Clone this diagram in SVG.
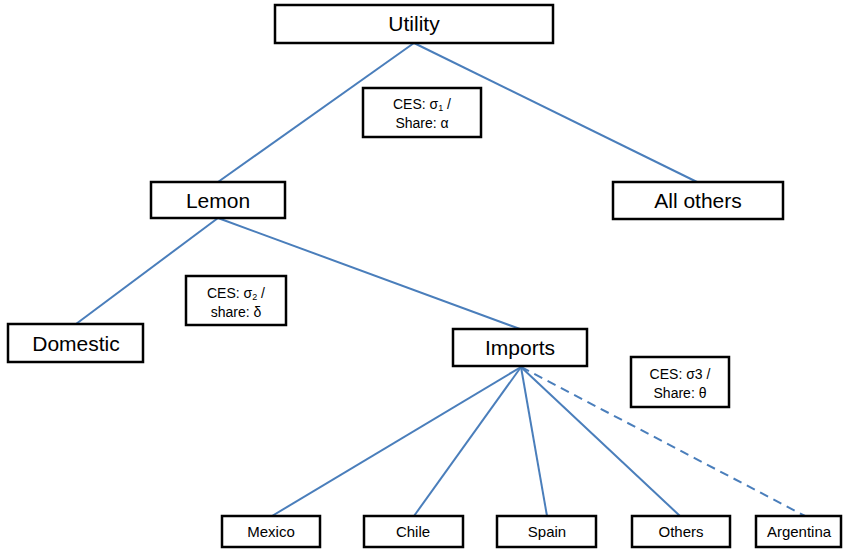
<svg xmlns="http://www.w3.org/2000/svg" width="844" height="550" viewBox="0 0 844 550">
<style>
.box{fill:#fff;stroke:#000;stroke-width:2.5}
.big{font-family:"Liberation Sans",Arial,sans-serif;font-size:21px;fill:#000;text-anchor:middle}
.mid{font-family:"Liberation Sans",Arial,sans-serif;font-size:14px;fill:#000;text-anchor:middle}
.sm{font-family:"Liberation Sans",Arial,sans-serif;font-size:15px;fill:#000;text-anchor:middle}
.edge{stroke:#4a7ebb;stroke-width:2;fill:none}
.dash{stroke-dasharray:9 6}
</style>
<rect width="844" height="550" fill="#fff"/>
<g id="connectors">
<line class="edge" x1="414" y1="43" x2="218" y2="182"/>
<line class="edge" x1="414" y1="43" x2="697" y2="182"/>
<line class="edge" x1="218" y1="218" x2="76" y2="324"/>
<line class="edge" x1="218" y1="218" x2="520" y2="329"/>
<line class="edge" x1="521" y1="367" x2="272" y2="516"/>
<line class="edge" x1="521" y1="367" x2="414" y2="516"/>
<line class="edge" x1="521" y1="367" x2="547" y2="516"/>
<line class="edge" x1="521" y1="367" x2="680" y2="516"/>
<line class="edge dash" x1="521" y1="367" x2="805" y2="516"/>
</g>
<g id="utility"><rect class="box" x="275" y="5" width="278" height="38"/><text class="big" x="414" y="31">Utility</text></g>
<g id="ces1"><rect class="box" x="363" y="88" width="118" height="49"/><text class="mid" x="422" y="109">CES: σ<tspan font-size="9" dy="2">1</tspan><tspan dy="-2"> /</tspan></text><text class="mid" x="422" y="128">Share: α</text></g>
<g id="lemon"><rect class="box" x="151" y="182" width="134" height="36"/><text class="big" x="218" y="208">Lemon</text></g>
<g id="allothers"><rect class="box" x="613" y="182" width="170" height="37"/><text class="big" x="698" y="208">All others</text></g>
<g id="ces2"><rect class="box" x="186" y="276" width="100" height="49"/><text class="mid" x="236" y="298">CES: σ<tspan font-size="9" dy="2">2</tspan><tspan dy="-2"> /</tspan></text><text class="mid" x="236" y="317">share: δ</text></g>
<g id="domestic"><rect class="box" x="8" y="324" width="135" height="38"/><text class="big" x="76" y="351">Domestic</text></g>
<g id="imports"><rect class="box" x="453" y="329" width="134" height="37"/><text class="big" x="520" y="355">Imports</text></g>
<g id="ces3"><rect class="box" x="631" y="357" width="98" height="50"/><text class="mid" x="680" y="379">CES: σ3 /</text><text class="mid" x="680" y="398">Share: θ</text></g>
<g id="mexico"><rect class="box" x="222" y="516" width="98" height="31"/><text class="sm" x="271" y="537">Mexico</text></g>
<g id="chile"><rect class="box" x="364" y="516" width="99" height="31"/><text class="sm" x="413" y="537">Chile</text></g>
<g id="spain"><rect class="box" x="497" y="516" width="99" height="31"/><text class="sm" x="547" y="537">Spain</text></g>
<g id="others"><rect class="box" x="632" y="516" width="98" height="31"/><text class="sm" x="681" y="537">Others</text></g>
<g id="argentina"><rect class="box" x="756" y="516" width="85" height="31"/><text class="sm" x="799" y="537">Argentina</text></g>
</svg>
